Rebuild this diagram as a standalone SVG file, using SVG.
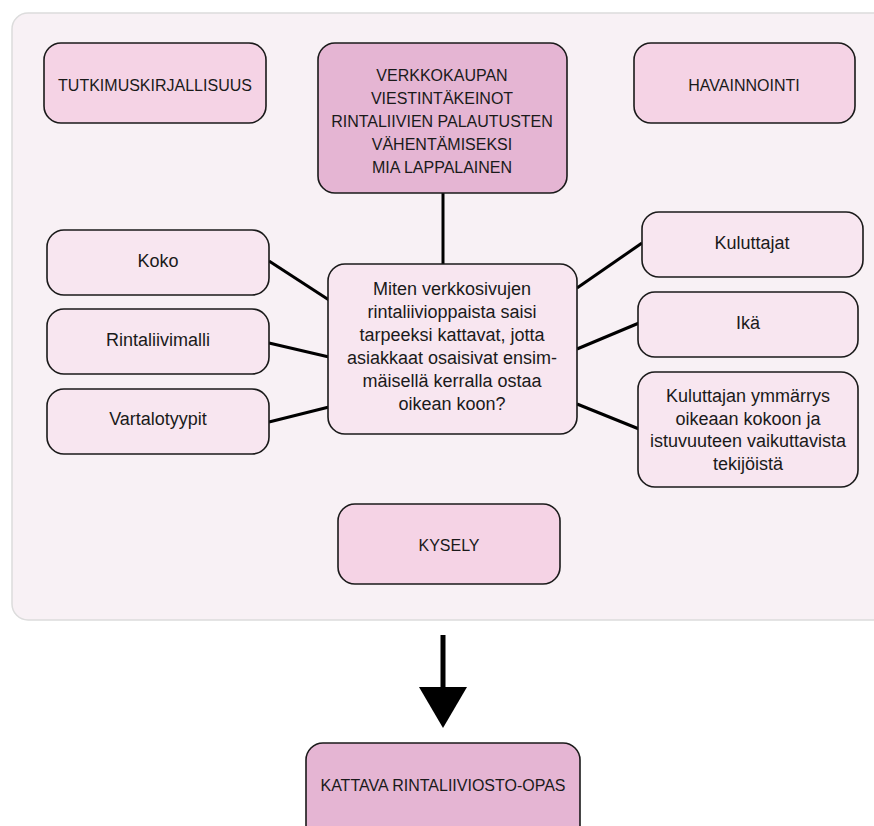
<svg xmlns="http://www.w3.org/2000/svg" width="874" height="826" viewBox="0 0 874 826">
<style>
.box{stroke:#1a1a1a;stroke-width:1.6}
.l1{fill:#f8e6f0}
.l2{fill:#f5d3e5}
.l3{fill:#e5b5d3}
text{font-family:"Liberation Sans",Arial,sans-serif;fill:#1a1a1a;text-anchor:middle}
.up{font-size:16px}
.lo{font-size:18px}
.conn line{stroke:#000;stroke-width:3}
</style>
<rect x="12" y="13" width="890" height="607" rx="16" fill="#f8f1f5" stroke="#dcdcdc" stroke-width="1.5"/>
<g class="conn">
<line x1="443" y1="192" x2="443" y2="265"/>
<line x1="269" y1="261" x2="329" y2="300"/>
<line x1="269" y1="343" x2="329" y2="357"/>
<line x1="269" y1="422" x2="329" y2="407"/>
<line x1="577" y1="288" x2="642" y2="243"/>
<line x1="577" y1="349" x2="639" y2="323"/>
<line x1="577" y1="404" x2="639" y2="429"/>
<line x1="443" y1="635" x2="443" y2="690" style="stroke-width:5"/>
<polygon points="419,687 467,687 443,728" fill="#000"/>
</g>
<g id="tutkimus"><rect class="box l2" x="44" y="43" width="222" height="80" rx="17"/><text class="up" x="155" y="91">TUTKIMUSKIRJALLISUUS</text></g>
<g id="title"><rect class="box l3" x="318" y="43" width="249" height="150" rx="17"/>
<text class="up" x="442" y="81">VERKKOKAUPAN</text>
<text class="up" x="442" y="104">VIESTINTÄKEINOT</text>
<text class="up" x="442" y="127">RINTALIIVIEN PALAUTUSTEN</text>
<text class="up" x="442" y="150">VÄHENTÄMISEKSI</text>
<text class="up" x="442" y="173">MIA LAPPALAINEN</text></g>
<g id="havainnointi"><rect class="box l2" x="634" y="43" width="221" height="80" rx="17"/><text class="up" x="744" y="91">HAVAINNOINTI</text></g>
<g id="koko"><rect class="box l1" x="47" y="230" width="222" height="65" rx="17"/><text class="lo" x="158" y="267">Koko</text></g>
<g id="rintaliivimalli"><rect class="box l1" x="47" y="309" width="222" height="65" rx="17"/><text class="lo" x="158" y="346">Rintaliivimalli</text></g>
<g id="vartalotyypit"><rect class="box l1" x="47" y="389" width="222" height="65" rx="17"/><text class="lo" x="158" y="425">Vartalotyypit</text></g>
<g id="center"><rect class="box l1" x="328" y="264" width="249" height="170" rx="17"/>
<text class="lo" x="452" y="295">Miten verkkosivujen</text>
<text class="lo" x="452" y="318">rintaliivioppaista saisi</text>
<text class="lo" x="452" y="341">tarpeeksi kattavat, jotta</text>
<text class="lo" x="452" y="364">asiakkaat osaisivat ensim-</text>
<text class="lo" x="452" y="387">mäisellä kerralla ostaa</text>
<text class="lo" x="452" y="410">oikean koon?</text></g>
<g id="kuluttajat"><rect class="box l1" x="642" y="212" width="221" height="65" rx="17"/><text class="lo" x="752" y="249">Kuluttajat</text></g>
<g id="ika"><rect class="box l1" x="638" y="292" width="220" height="65" rx="17"/><text class="lo" x="748" y="329">Ikä</text></g>
<g id="ymmarrys"><rect class="box l1" x="638" y="372" width="220" height="115" rx="17"/>
<text class="lo" x="748" y="402">Kuluttajan ymmärrys</text>
<text class="lo" x="748" y="424.5">oikeaan kokoon ja</text>
<text class="lo" x="748" y="447">istuvuuteen vaikuttavista</text>
<text class="lo" x="748" y="469.5">tekijöistä</text></g>
<g id="kysely"><rect class="box l2" x="338" y="504" width="222" height="80" rx="17"/><text class="up" x="449" y="551">KYSELY</text></g>
<g id="opas"><rect class="box l3" x="306" y="743" width="274" height="110" rx="17"/><text class="up" x="443" y="791">KATTAVA RINTALIIVIOSTO-OPAS</text></g>
</svg>
